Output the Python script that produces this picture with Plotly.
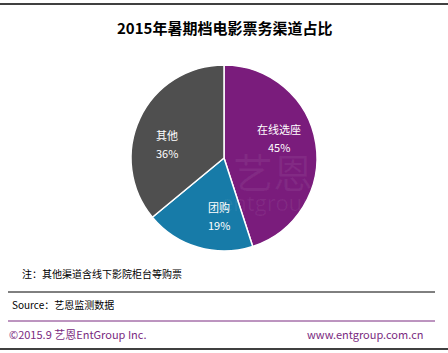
import math
import plotly.graph_objects as go

labels = ["在线选座", "团购", "其他"]
values = [45, 19, 36]
colors = ["#7A1C7C", "#177BA8", "#4F4F4F"]

W, H = 448, 353
FONT = "Noto Sans CJK SC"

def py(y):
    return 1 - y / H

def px(x):
    return x / W

cx, cy, r = 224, 158, 93

fig = go.Figure(go.Pie(
    labels=labels, values=values, sort=False, direction="clockwise", rotation=0,
    marker=dict(colors=colors, line=dict(color="white", width=1.5)),
    textinfo="none",
    domain=dict(x=[px(cx - r), px(cx + r)], y=[py(cy + r), py(cy - r)]),
    showlegend=False, hoverinfo="label+percent",
))

shapes = [
    dict(type="line", xref="paper", yref="paper", x0=0, x1=1, y0=py(4), y1=py(4), line=dict(color="black", width=1.5)),
    dict(type="line", xref="paper", yref="paper", x0=px(8), x1=px(435), y0=py(292), y1=py(292), line=dict(color="black", width=1)),
    dict(type="line", xref="paper", yref="paper", x0=px(8), x1=px(435), y0=py(321), y1=py(321), line=dict(color="#7A2A80", width=1)),
    dict(type="line", xref="paper", yref="paper", x0=0, x1=1, y0=py(349), y1=py(349), line=dict(color="black", width=1.5)),
]

annotations = [
    dict(text="艺恩", x=px(273), y=py(171), xref="paper", yref="paper",
         showarrow=False, font=dict(size=40, color="rgba(255,255,255,0.06)", family=FONT), xanchor="center", yanchor="middle"),
    dict(text="entgroup", x=px(268), y=py(202), xref="paper", yref="paper",
         showarrow=False, font=dict(size=22, color="rgba(255,255,255,0.06)", family="Open Sans"), xanchor="center", yanchor="middle"),
]

# slice labels placed from the data's angles
total = sum(values)
cum = 0
for lab, v in zip(labels, values):
    mid = (cum + v / 2) / total * 360 - 11
    cum += v
    rho = 0.63 * r
    lx = cx + rho * math.sin(math.radians(mid))
    ly = cy - rho * math.cos(math.radians(mid))
    annotations.append(dict(text=lab, x=px(lx), y=py(ly - 9), xref="paper", yref="paper", showarrow=False,
                            font=dict(size=11, color="white", family=FONT), xanchor="center", yanchor="middle"))
    annotations.append(dict(text=f"{v}%", x=px(lx), y=py(ly + 9), xref="paper", yref="paper", showarrow=False,
                            font=dict(size=11, color="white", family=FONT), xanchor="center", yanchor="middle"))

annotations += [
    dict(text="<b>2015年暑期档电影票务渠道占比</b>", x=0.5, y=py(27), xref="paper", yref="paper",
         showarrow=False, font=dict(size=15, color="black", family=FONT), xanchor="center", yanchor="middle"),
    dict(text="注：其他渠道含线下影院柜台等购票", x=px(20), y=py(273), xref="paper", yref="paper",
         showarrow=False, font=dict(size=10, color="black", family=FONT), xanchor="left", yanchor="middle"),
    dict(text="Source：艺恩监测数据", x=px(10), y=py(304), xref="paper", yref="paper",
         showarrow=False, font=dict(size=10, color="black", family=FONT), xanchor="left", yanchor="middle"),
    dict(text="©2015.9 艺恩EntGroup Inc.", x=px(7), y=py(334), xref="paper", yref="paper",
         showarrow=False, font=dict(size=11, color="#7A2A80", family=FONT), xanchor="left", yanchor="middle"),
    dict(text="www.entgroup.com.cn", x=px(425), y=py(334), xref="paper", yref="paper",
         showarrow=False, font=dict(size=11, color="#7A2A80", family=FONT), xanchor="right", yanchor="middle"),
]

fig.update_layout(
    width=W, height=H, margin=dict(l=0, r=0, t=0, b=0),
    paper_bgcolor="white", plot_bgcolor="white",
    shapes=shapes, annotations=annotations,
)

fig.write_html("out.html", config={"displayModeBar": False})
